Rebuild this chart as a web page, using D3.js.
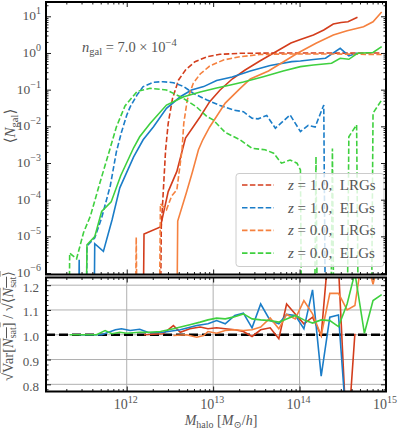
<!DOCTYPE html>
<html>
<head>
<meta charset="utf-8">
<script src="https://cdn.jsdelivr.net/npm/d3@7/dist/d3.min.js"></script>
<style>
  body { margin: 0; background: #fff; }
  text { font-family: "Liberation Serif", "DejaVu Serif", serif; fill: #555; }
</style>
</head>
<body>
<div id="chart-area"></div>
<script>
// log10(M_halo [Msun/h]) and <N_gal> per bin (0 = empty bin)
const lrgZ1CenLogM = [12.30, 12.40, 12.45, 12.48, 12.53, 12.60, 12.68, 12.79, 12.93, 13.08, 13.31, 13.60, 13.90, 14.20, 14.50, 14.80, 14.95];
const lrgZ1Cen     = [0, 1.8e-5, 2.3e-3, 1.2e-2, 5.8e-2, 0.184, 0.344, 0.58, 0.79, 0.92, 0.98, 0.99, 1.0, 1.0, 0.99, 1.0, 1.0];
const lrgZ1SatLogM = [12.10, 12.20, 12.39, 12.48, 12.58, 12.68, 12.85, 12.96, 13.08, 13.22, 13.37, 13.54, 13.72, 13.90, 14.01, 14.16, 14.28, 14.39, 14.48, 14.56, 14.67];
const lrgZ1Sat     = [0, 1.15e-5, 1.8e-5, 1.66e-4, 5.9e-4, 4.8e-3, 1.83e-2, 4.7e-2, 9.8e-2, 0.195, 0.344, 0.605, 1.06, 1.87, 2.33, 3.09, 4.24, 6.17, 6.78, 7.13, 9.4];

const elgZ1CenLogM = [11.44, 11.54, 11.63, 11.71, 11.81, 11.88, 11.94, 12.00, 12.04, 12.12, 12.19, 12.31, 12.42, 12.54, 12.66, 12.77, 12.93, 13.08, 13.23, 13.35, 13.45, 13.52, 13.62, 13.72, 13.89, 14.01, 14.10, 14.18, 14.28, 14.37];
const elgZ1Cen     = [0, 5.5e-6, 9.1e-6, 3.2e-5, 2.4e-4, 2.0e-3, 7.0e-3, 2.0e-2, 3.4e-2, 7.2e-2, 0.121, 0.159, 0.165, 0.155, 0.121, 8.0e-2, 5.2e-2, 3.7e-2, 2.8e-2, 2.5e-2, 1.66e-2, 1.6e-2, 1.98e-2, 8.9e-3, 2.05e-2, 7.2e-3, 1.06e-2, 9.6e-3, 3.8e-2, 0];
const elgZ1SatLogM = [11.35, 11.45, 11.54, 11.63, 11.73, 11.83, 11.92, 12.08, 12.19, 12.31, 12.46, 12.62, 12.75, 12.89, 13.04, 13.22, 13.43, 13.66, 13.91, 14.01, 14.16, 14.30, 14.47, 14.57, 14.67];
const elgZ1Sat     = [0, 2.3e-6, 0, 6.3e-6, 3.9e-6, 2.8e-5, 2.1e-4, 1.47e-3, 4.3e-3, 9.8e-3, 3.1e-2, 6.4e-2, 9.8e-2, 0.121, 0.178, 0.222, 0.323, 0.457, 0.58, 0.605, 0.665, 0.717, 1.34, 0.83, 1.0];

const lrgZ0CenLogM = [12.01, 12.11, 12.21, 12.29, 12.39, 12.46, 12.52, 12.58, 12.64, 12.66, 12.70, 12.77, 12.85, 12.96, 13.12, 13.31, 13.54, 13.89, 14.35, 14.95];
const lrgZ0Cen     = [0, 9.5e-6, 0, 0, 7.7e-5, 5.3e-5, 1.26e-4, 1.85e-4, 2.3e-3, 1.2e-2, 5.2e-2, 0.149, 0.268, 0.44, 0.645, 0.79, 0.91, 0.94, 0.94, 0.91];
const lrgZ0SatLogM = [12.50, 12.59, 12.69, 12.76, 12.83, 12.88, 12.96, 13.14, 13.31, 13.43, 13.64, 13.81, 13.98, 14.19, 14.39, 14.55, 14.74, 14.85, 14.95];
const lrgZ0Sat     = [0, 2.6e-5, 1.55e-4, 5.7e-4, 2.3e-3, 4.3e-3, 9.6e-3, 4.3e-2, 0.107, 0.196, 0.323, 0.569, 1.0, 1.84, 3.09, 4.05, 5.2, 7.1, 13.1];

const elgZ0CenLogM = [11.25, 11.34, 11.42, 11.50, 11.58, 11.69, 11.81, 11.88, 11.98, 12.12, 12.27, 12.46, 12.64, 12.80, 12.93, 13.00, 13.14, 13.31, 13.45, 13.60, 13.70, 13.79, 13.89, 13.97, 14.01, 14.09, 14.19, 14.28, 14.38, 14.47, 14.57, 14.66, 14.76, 14.85, 14.95];
const elgZ0Cen     = [0, 3.5e-6, 2.45e-6, 1.26e-5, 3.6e-5, 2.9e-4, 2.6e-3, 9.6e-3, 3.6e-2, 8.9e-2, 0.109, 9.8e-2, 6.1e-2, 3.5e-2, 1.84e-2, 1.5e-2, 6.8e-3, 4.3e-3, 2.5e-3, 2.3e-3, 1.85e-3, 9.9e-4, 1.2e-3, 9.9e-4, 6.5e-4, 0, 1.5e-3, 0, 2.5e-3, 0, 5.2e-3, 1.1e-2, 0, 2.3e-2, 5.2e-2];
const elgZ0SatLogM = [11.44, 11.54, 11.63, 11.71, 11.82, 11.93, 12.08, 12.15, 12.27, 12.46, 12.66, 12.85, 13.04, 13.20, 13.35, 13.58, 13.81, 14.01, 14.16, 14.37, 14.47, 14.57, 14.67, 14.85, 14.95];
const elgZ0Sat     = [0, 5.9e-6, 9.8e-6, 4.8e-5, 8.7e-5, 4.5e-4, 2.6e-3, 5.2e-3, 1.2e-2, 3.8e-2, 6.4e-2, 8.65e-2, 0.111, 0.134, 0.162, 0.226, 0.323, 0.424, 0.471, 0.524, 0.717, 0.673, 0.98, 1.03, 1.49];

// sqrt(Var[N_sat]) / sqrt(<N_sat>)
const ratioLrgZ1LogM = [12.20, 12.42, 12.54, 12.62, 12.73, 12.85, 12.94, 13.04, 13.14, 13.25, 13.35, 13.45, 13.55, 13.66, 13.76, 13.85, 13.95, 14.05, 14.15, 14.25, 14.35, 14.44, 14.55, 14.64];
const ratioLrgZ1     = [1.0, 1.004, 1.037, 1.01, 1.024, 1.031, 1.024, 1.028, 1.024, 1.02, 1.013, 0.993, 1.02, 1.028, 0.984, 1.124, 1.084, 1.044, 1.071, 0.997, 1.4, 1.35, 0.55, 1.004];
const ratioElgZ1LogM = [11.45, 11.55, 11.65, 11.71, 11.87, 11.94, 12.04, 12.15, 12.25, 12.42, 12.62, 12.81, 12.94, 13.04, 13.14, 13.25, 13.35, 13.45, 13.55, 13.66, 13.76, 13.85, 13.95, 14.05, 14.15, 14.25, 14.35, 14.45, 14.55];
const ratioElgZ1     = [1.0, 1.0, 1.0, 1.0, 1.02, 1.024, 1.017, 1.022, 1.009, 1.01, 1.02, 1.037, 1.044, 1.057, 1.044, 1.078, 1.087, 1.028, 1.124, 1.057, 1.044, 1.082, 1.078, 1.024, 1.181, 0.833, 1.071, 1.08, 0.6];
const ratioLrgZ0LogM = [12.54, 12.69, 12.81, 12.89, 12.94, 13.04, 13.14, 13.25, 13.35, 13.45, 13.55, 13.66, 13.76, 13.85, 13.95, 14.05, 14.15, 14.25, 14.35, 14.45, 14.55, 14.64, 14.74, 14.85, 14.95];
const ratioLrgZ0     = [0.997, 1.0, 0.99, 0.997, 1.013, 1.006, 1.017, 1.02, 1.017, 1.02, 1.031, 1.068, 1.024, 1.082, 1.064, 1.138, 1.084, 0.997, 1.167, 1.167, 1.1, 1.118, 1.35, 1.204, 1.35];
const ratioElgZ0LogM = [11.34, 11.44, 11.54, 11.65, 11.75, 11.83, 11.92, 12.00, 12.15, 12.27, 12.39, 12.54, 12.73, 12.85, 12.94, 13.04, 13.14, 13.23, 13.35, 13.45, 13.55, 13.66, 13.76, 13.85, 13.95, 14.05, 14.15, 14.25, 14.35, 14.45, 14.55, 14.64, 14.75, 14.85, 14.95];
const ratioElgZ0     = [1.0, 1.0, 1.0, 1.0, 1.017, 1.004, 1.01, 1.006, 1.01, 1.01, 1.013, 1.024, 1.04, 1.051, 1.06, 1.067, 1.064, 1.071, 1.084, 1.064, 1.06, 1.057, 1.051, 1.064, 1.078, 1.06, 1.047, 1.06, 1.057, 1.033, 1.124, 1.25, 1.006, 1.138, 1.162];

const legendLabels = ['1.0, LRGs', '1.0, ELGs', '0.0, LRGs', '0.0, ELGs'];
const xMajor = [1e12, 1e13, 1e14, 1e15];
const yTopMajor = [1e1, 1e0, 1e-1, 1e-2, 1e-3, 1e-4, 1e-5, 1e-6];
const yBotMajor = [0.8, 0.9, 1.0, 1.1, 1.2];

const colors = { lrgZ1: '#d33d1c', elgZ1: '#1b7dc8', lrgZ0: '#f5813f', elgZ0: '#3fd03f' };

const W = 399, H = 430;
const left = 46, right = 386;
const top1 = 2, bot1 = 274.5, top2 = 277.5, bot2 = 391.5;

const svg = d3.select('#chart-area').append('svg')
    .attr('width', W).attr('height', H);

const x = d3.scaleLog().domain([Math.pow(10, 11.066), 1e15]).range([left, right]);
const yTop = d3.scaleLog().domain([Math.pow(10, -6.04), Math.pow(10, 1.39)]).range([bot1, top1]);
const yBot = d3.scaleLinear().domain([0.771, 1.231]).range([bot2, top2]);

const defs = svg.append('defs');
defs.append('clipPath').attr('id', 'clipTop').append('rect')
    .attr('x', left).attr('y', top1).attr('width', right - left).attr('height', bot1 - top1);
defs.append('clipPath').attr('id', 'clipBot').append('rect')
    .attr('x', left).attr('y', top2).attr('width', right - left).attr('height', bot2 - top2);

// minor ticks for log axes
const xMinor = [];
for (let e = 11; e <= 14; e++) for (let m = 2; m <= 9; m++) {
    const v = m * Math.pow(10, e);
    if (v > x.domain()[0] && v < 1e15) xMinor.push(v);
}
const yTopMinor = [];
for (let e = -7; e <= 1; e++) for (let m = 2; m <= 9; m++) {
    const v = m * Math.pow(10, e);
    if (v > yTop.domain()[0] && v < yTop.domain()[1]) yTopMinor.push(v);
}
const yBotMinor = d3.range(0.78, 1.23, 0.02).filter(v => Math.abs(v * 10 - Math.round(v * 10)) > 0.01);

function ticks(g, axisFn, scale, values, size, pos, isX) {
    const a = axisFn(scale).tickValues(values).tickSize(-size).tickFormat('');
    const gg = g.append('g')
        .attr('transform', isX ? 'translate(0,' + pos + ')' : 'translate(' + pos + ',0)')
        .call(a);
    gg.select('.domain').remove();
    gg.selectAll('line').attr('stroke', '#000').attr('stroke-width', 0.9);
}

// ---- bottom panel grid ----
const grid = svg.append('g');
grid.selectAll('.gx').data(xMajor).enter().append('line')
    .attr('x1', d => x(d)).attr('x2', d => x(d)).attr('y1', top2).attr('y2', bot2)
    .attr('stroke', '#b0b0b0').attr('stroke-width', 1);
grid.selectAll('.gy').data(yBotMajor).enter().append('line')
    .attr('x1', left).attr('x2', right).attr('y1', d => yBot(d)).attr('y2', d => yBot(d))
    .attr('stroke', '#b0b0b0').attr('stroke-width', 1);

// ---- top panel curves ----
const lineTop = d3.line()
    .x(d => x(Math.pow(10, d[0])))
    .y(d => d[1] > 0 ? yTop(d[1]) : yTop(1e-30));
const topSeries = [
    { m: lrgZ1SatLogM, n: lrgZ1Sat, c: colors.lrgZ1, dash: null },
    { m: lrgZ1CenLogM, n: lrgZ1Cen, c: colors.lrgZ1, dash: '5.5,2.4' },
    { m: elgZ1SatLogM, n: elgZ1Sat, c: colors.elgZ1, dash: null },
    { m: elgZ1CenLogM, n: elgZ1Cen, c: colors.elgZ1, dash: '5.5,2.4' },
    { m: lrgZ0SatLogM, n: lrgZ0Sat, c: colors.lrgZ0, dash: null },
    { m: lrgZ0CenLogM, n: lrgZ0Cen, c: colors.lrgZ0, dash: '5.5,2.4' },
    { m: elgZ0SatLogM, n: elgZ0Sat, c: colors.elgZ0, dash: null },
    { m: elgZ0CenLogM, n: elgZ0Cen, c: colors.elgZ0, dash: '5.5,2.4' }
];
const gTop = svg.append('g').attr('clip-path', 'url(#clipTop)');
topSeries.forEach(s => {
    gTop.append('path')
        .datum(s.m.map((v, i) => [v, s.n[i]]))
        .attr('d', lineTop)
        .attr('fill', 'none')
        .attr('stroke', s.c)
        .attr('stroke-width', 1.6)
        .attr('stroke-dasharray', s.dash);
});

// ---- bottom panel curves ----
const lineBot = d3.line()
    .x(d => x(Math.pow(10, d[0])))
    .y(d => yBot(d[1]));
const gBot = svg.append('g').attr('clip-path', 'url(#clipBot)');
gBot.append('line')
    .attr('x1', left).attr('x2', right).attr('y1', yBot(1)).attr('y2', yBot(1))
    .attr('stroke', '#000').attr('stroke-width', 2.6).attr('stroke-dasharray', '9,4');
[
    { m: ratioLrgZ1LogM, r: ratioLrgZ1, c: colors.lrgZ1 },
    { m: ratioElgZ1LogM, r: ratioElgZ1, c: colors.elgZ1 },
    { m: ratioLrgZ0LogM, r: ratioLrgZ0, c: colors.lrgZ0 },
    { m: ratioElgZ0LogM, r: ratioElgZ0, c: colors.elgZ0 }
].forEach(s => {
    gBot.append('path')
        .datum(s.m.map((v, i) => [v, s.r[i]]))
        .attr('d', lineBot)
        .attr('fill', 'none')
        .attr('stroke', s.c)
        .attr('stroke-width', 1.6);
});

// ---- legend ----
const lg = svg.append('g');
lg.append('rect')
    .attr('x', 236).attr('y', 173.5).attr('width', 148).attr('height', 93)
    .attr('rx', 3).attr('fill', '#fff').attr('fill-opacity', 0.8)
    .attr('stroke', '#cccccc').attr('stroke-width', 1);
const legColors = [colors.lrgZ1, colors.elgZ1, colors.lrgZ0, colors.elgZ0];
legendLabels.forEach((lab, i) => {
    const yy = 185 + i * 22.7;
    lg.append('line')
        .attr('x1', 242).attr('x2', 274).attr('y1', yy).attr('y2', yy)
        .attr('stroke', legColors[i]).attr('stroke-width', 1.6).attr('stroke-dasharray', '5.5,2.4');
    const t = lg.append('text').attr('x', 288).attr('y', yy + 5).attr('font-size', 15);
    t.append('tspan').attr('font-style', 'italic').text('z');
    t.append('tspan').text('\u00a0=\u00a0' + lab.replace(', ', ',\u00a0\u00a0'));
});

// ---- ticks ----
const axes = svg.append('g');
// top panel
ticks(axes, d3.axisBottom, x, xMajor, 5, bot1, true);
ticks(axes, d3.axisBottom, x, xMinor, 2.5, bot1, true);
ticks(axes, d3.axisTop, x, xMajor, 5, top1, true);
ticks(axes, d3.axisTop, x, xMinor, 2.5, top1, true);
ticks(axes, d3.axisLeft, yTop, yTopMajor, 5, left, false);
ticks(axes, d3.axisLeft, yTop, yTopMinor, 2.5, left, false);
ticks(axes, d3.axisRight, yTop, yTopMajor, 5, right, false);
ticks(axes, d3.axisRight, yTop, yTopMinor, 2.5, right, false);
// bottom panel
ticks(axes, d3.axisBottom, x, xMajor, 5, bot2, true);
ticks(axes, d3.axisBottom, x, xMinor, 2.5, bot2, true);
ticks(axes, d3.axisTop, x, xMajor, 5, top2, true);
ticks(axes, d3.axisTop, x, xMinor, 2.5, top2, true);
ticks(axes, d3.axisLeft, yBot, yBotMajor, 5, left, false);
ticks(axes, d3.axisLeft, yBot, yBotMinor, 2.5, left, false);
ticks(axes, d3.axisRight, yBot, yBotMajor, 5, right, false);
ticks(axes, d3.axisRight, yBot, yBotMinor, 2.5, right, false);

// spines
[[top1, bot1], [top2, bot2]].forEach(p => {
    svg.append('rect')
        .attr('x', left).attr('y', p[0]).attr('width', right - left).attr('height', p[1] - p[0])
        .attr('fill', 'none').attr('stroke', '#000').attr('stroke-width', 2);
});

// ---- tick labels ----
const sup = e => (e < 0 ? '\u2212' + (-e) : '' + e);
yTopMajor.forEach(v => {
    const t = svg.append('text').attr('x', 41).attr('y', yTop(v) + 4)
        .attr('text-anchor', 'end').attr('font-size', 13.5);
    t.append('tspan').text('10');
    t.append('tspan').attr('dy', -6).attr('font-size', 10).text(sup(Math.round(Math.log10(v))));
});
yBotMajor.forEach(v => {
    svg.append('text').attr('x', 39).attr('y', yBot(v) + 6.5)
        .attr('text-anchor', 'end').attr('font-size', 13).text(v.toFixed(1));
});
xMajor.forEach(v => {
    const t = svg.append('text').attr('x', x(v) - 1).attr('y', 409)
        .attr('text-anchor', 'middle').attr('font-size', 14);
    t.append('tspan').text('10');
    t.append('tspan').attr('dy', -6).attr('font-size', 10).text(Math.round(Math.log10(v)));
});

// ---- annotation and axis labels ----
const ann = svg.append('text').attr('x', 82).attr('y', 52).attr('font-size', 14.5);
ann.append('tspan').attr('font-style', 'italic').text('n');
ann.append('tspan').attr('dy', 3).attr('font-size', 10.5).text('gal');
ann.append('tspan').attr('dy', -3).text('\u00a0=\u00a07.0\u00a0\u00d7\u00a010');
ann.append('tspan').attr('dy', -6).attr('font-size', 10.5).text('\u22124');

const xl = svg.append('text').attr('x', 221).attr('y', 425)
    .attr('text-anchor', 'middle').attr('font-size', 14);
xl.append('tspan').attr('font-style', 'italic').text('M');
xl.append('tspan').attr('dy', 3).attr('font-size', 10).text('halo');
xl.append('tspan').attr('dy', -3).text('\u00a0[');
xl.append('tspan').attr('font-style', 'italic').text('M');
xl.append('tspan').attr('dy', 3).attr('font-size', 10).text('\u2299');
xl.append('tspan').attr('dy', -3).text('/');
xl.append('tspan').attr('font-style', 'italic').text('h');
xl.append('tspan').text(']');

const yl = svg.append('text').attr('transform', 'translate(15,126) rotate(-90)')
    .attr('text-anchor', 'middle').attr('font-size', 15);
yl.append('tspan').text('\u27e8');
yl.append('tspan').attr('font-style', 'italic').text('N');
yl.append('tspan').attr('dy', 3).attr('font-size', 10.5).text('gal');
yl.append('tspan').attr('dy', -3).text('\u27e9');

const yl2 = svg.append('text').attr('transform', 'translate(13,326) rotate(-90)')
    .attr('text-anchor', 'middle').attr('font-size', 14.5);
yl2.append('tspan').text('\u221a');
yl2.append('tspan').style('text-decoration', 'overline').text('Var[');
yl2.append('tspan').style('text-decoration', 'overline').attr('font-style', 'italic').text('N');
yl2.append('tspan').style('text-decoration', 'overline').attr('dy', 3).attr('font-size', 10).text('sat');
yl2.append('tspan').style('text-decoration', 'overline').attr('dy', -3).text(']');
yl2.append('tspan').text('\u00a0/\u00a0');
yl2.append('tspan').text('\u221a');
yl2.append('tspan').style('text-decoration', 'overline').text('\u27e8');
yl2.append('tspan').style('text-decoration', 'overline').attr('font-style', 'italic').text('N');
yl2.append('tspan').style('text-decoration', 'overline').attr('dy', 3).attr('font-size', 10).text('sat');
yl2.append('tspan').style('text-decoration', 'overline').attr('dy', -3).text('\u27e9');
</script>
</body>
</html>
